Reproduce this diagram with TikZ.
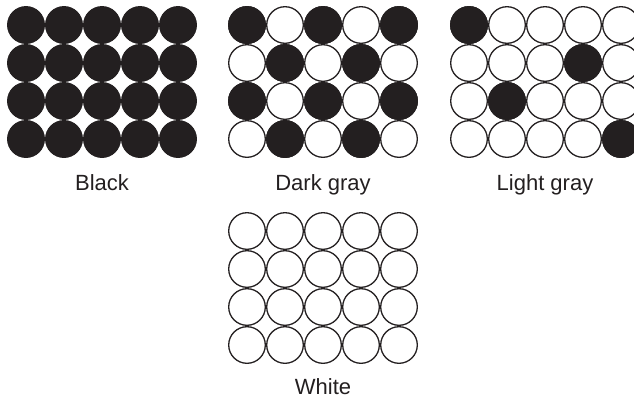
\documentclass[tikz,border=0pt]{standalone}
\usepackage{fontspec}
\setmainfont{Liberation Sans}
\usetikzlibrary{positioning}
\definecolor{ink}{HTML}{231F20}

\begin{document}
\begin{tikzpicture}[
  x=1pt, y=-1pt,
  dot/.style  = {draw=ink, circle, fill=white, line width=1.3pt,
                 minimum size=36.6pt, inner sep=0pt},
  full/.style = {dot, fill=ink},
  lbl/.style  = {font=\fontsize{22}{26}\selectfont, text=ink,
                 inner sep=0pt}
]
\useasboundingbox (0,0) rectangle (634,400);

%── Black ─────────────────────────────────────────────
\foreach \c in {1,...,5}
  \foreach \r in {1,...,4}
    \node[full] (blk-\c-\r) at ({26+38*(\c-1)},{25+38*(\r-1)}) {};

%── Dark gray ─────────────────────────────────────────
\foreach \c in {1,...,5}
  \foreach \r in {1,...,4}
    \node[dot] (dkg-\c-\r) at ({247+38*(\c-1)},{25+38*(\r-1)}) {};
\foreach \cell in {1-1,3-1,5-1,2-2,4-2,1-3,3-3,5-3,2-4,4-4}
  \node[full] (dkg-\cell-on) at (dkg-\cell) {};

%── Light gray ────────────────────────────────────────
\foreach \c in {1,...,5}
  \foreach \r in {1,...,4}
    \node[dot] (ltg-\c-\r) at ({469+38*(\c-1)},{25+38*(\r-1)}) {};
\foreach \cell in {1-1,4-2,2-3,5-4}
  \node[full] (ltg-\cell-on) at (ltg-\cell) {};

%── White ─────────────────────────────────────────────
\foreach \c in {1,...,5}
  \foreach \r in {1,...,4}
    \node[dot] (wht-\c-\r) at ({247+38*(\c-1)},{231+38*(\r-1)}) {};

%── Labels ────────────────────────────────────────────
\node[lbl, below=16pt of blk-3-4] (blk-lbl) {Black};
\node[lbl, below=16pt of dkg-3-4] (dkg-lbl) {Dark gray};
\node[lbl, below=16pt of ltg-3-4] (ltg-lbl) {Light gray};
\node[lbl, below=14pt of wht-3-4] (wht-lbl) {White};

\end{tikzpicture}
\end{document}
